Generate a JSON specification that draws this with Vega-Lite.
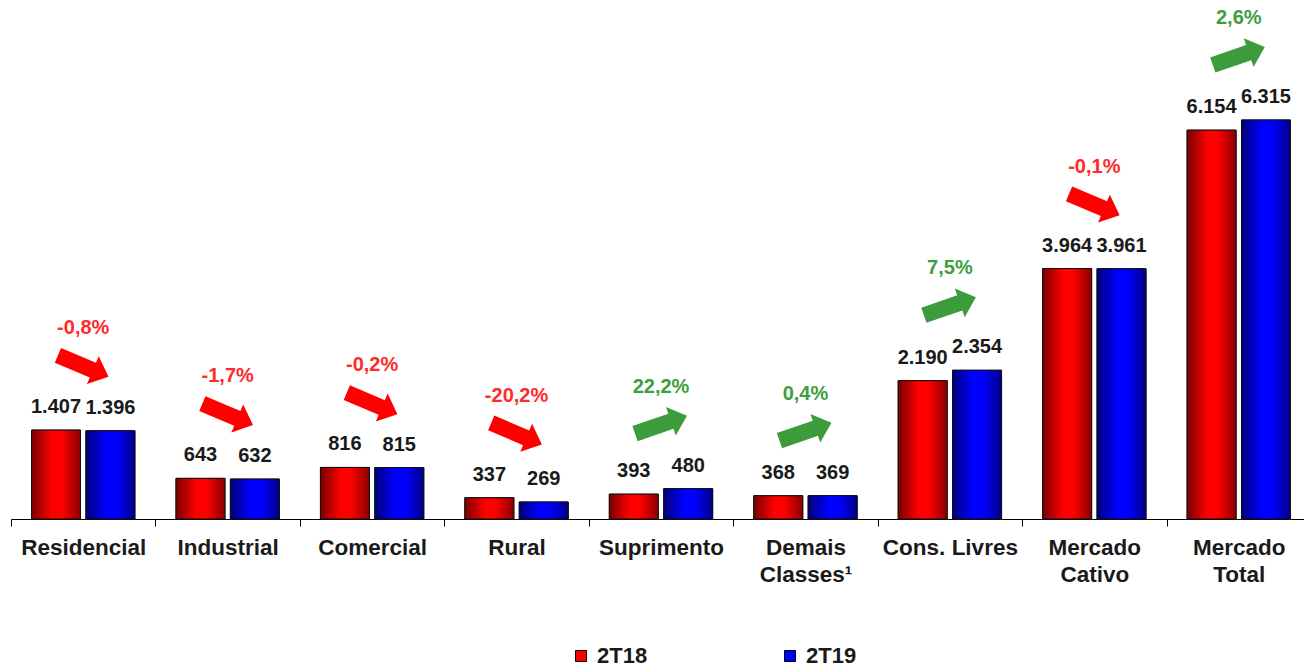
{
  "$schema": "https://vega.github.io/schema/vega-lite/v6.json",
  "width": 1300,
  "height": 519,
  "autosize": {"type": "none"},
  "padding": {"left": 11, "top": 0, "right": -7, "bottom": 151},
  "background": "white",
  "config": {
    "locale": {"number": {"decimal": ",", "thousands": ".", "grouping": [3], "currency": ["R$", ""], "minus": "-"}},
    "view": {"stroke": null},
    "font": "Liberation Sans"
  },
  "data": {
    "values": [
      {"cat": "Residencial", "serie": "2T18", "value": 1407, "chg": -0.008},
      {"cat": "Residencial", "serie": "2T19", "value": 1396, "chg": -0.008},
      {"cat": "Industrial", "serie": "2T18", "value": 643, "chg": -0.017},
      {"cat": "Industrial", "serie": "2T19", "value": 632, "chg": -0.017},
      {"cat": "Comercial", "serie": "2T18", "value": 816, "chg": -0.002},
      {"cat": "Comercial", "serie": "2T19", "value": 815, "chg": -0.002},
      {"cat": "Rural", "serie": "2T18", "value": 337, "chg": -0.202},
      {"cat": "Rural", "serie": "2T19", "value": 269, "chg": -0.202},
      {"cat": "Suprimento", "serie": "2T18", "value": 393, "chg": 0.222},
      {"cat": "Suprimento", "serie": "2T19", "value": 480, "chg": 0.222},
      {"cat": "Demais|Classes¹", "serie": "2T18", "value": 368, "chg": 0.004},
      {"cat": "Demais|Classes¹", "serie": "2T19", "value": 369, "chg": 0.004},
      {"cat": "Cons. Livres", "serie": "2T18", "value": 2190, "chg": 0.075},
      {"cat": "Cons. Livres", "serie": "2T19", "value": 2354, "chg": 0.075},
      {"cat": "Mercado|Cativo", "serie": "2T18", "value": 3964, "chg": -0.001},
      {"cat": "Mercado|Cativo", "serie": "2T19", "value": 3961, "chg": -0.001},
      {"cat": "Mercado|Total", "serie": "2T18", "value": 6154, "chg": 0.026},
      {"cat": "Mercado|Total", "serie": "2T19", "value": 6315, "chg": 0.026}
    ]
  },
  "encoding": {
    "x": {
      "field": "cat",
      "type": "nominal",
      "sort": null,
      "scale": {
        "domain": ["Residencial", "Industrial", "Comercial", "Rural", "Suprimento", "Demais|Classes¹", "Cons. Livres", "Mercado|Cativo", "Mercado|Total"],
        "paddingInner": 0,
        "paddingOuter": 0
      },
      "axis": {
        "title": null,
        "labelAngle": 0,
        "labelFont": "Liberation Sans",
        "labelFontSize": 22.5,
        "labelFontWeight": "bold",
        "labelColor": "#1a1a1a",
        "labelPadding": 10,
        "labelLineHeight": 27,
        "labelExpr": "split(datum.label, '|')",
        "labelBound": false,
        "labelOverlap": false,
        "domainColor": "#000000",
        "domainWidth": 1,
        "tickColor": "#000000",
        "tickSize": 7,
        "tickWidth": 1,
        "tickBand": "extent",
        "grid": false
      }
    },
    "y": {"field": "value", "type": "quantitative", "scale": {"domain": [0, 8214], "nice": false, "zero": true}, "axis": null}
  },
  "layer": [
    {
      "mark": {"type": "bar", "stroke": "#111111", "strokeWidth": 1},
      "encoding": {
        "xOffset": {"field": "serie", "type": "nominal", "scale": {"domain": ["2T18", "2T19"], "paddingInner": 0.1, "paddingOuter": 0.378}},
        "color": {
          "field": "serie",
          "type": "nominal",
          "scale": {"domain": ["2T18", "2T19"], "range": ["#ff0000", "#0000ff"]},
          "legend": {
            "title": null,
            "orient": "none",
            "legendX": 559,
            "legendY": 645,
            "direction": "horizontal",
            "padding": 0,
            "columnPadding": 131,
            "labelOffset": 5,
            "labelFont": "Liberation Sans",
            "labelFontSize": 22,
            "labelFontWeight": "bold",
            "labelColor": "#1a1a1a",
            "symbolType": "square",
            "symbolSize": 121,
            "symbolStrokeColor": "#000000",
            "symbolStrokeWidth": 1,
            "symbolOpacity": 1
          }
        }
      }
    },
    {
      "transform": [{"filter": "datum.serie === '2T18'"}],
      "mark": {
        "type": "bar",
        "stroke": "#111111",
        "strokeWidth": 1,
        "fill": {"gradient": "linear", "x1": 0, "y1": 0, "x2": 1, "y2": 0,
          "stops": [{"offset": 0, "color": "#7a0000"}, {"offset": 0.42, "color": "#ff0000"}, {"offset": 0.62, "color": "#ff0000"}, {"offset": 1, "color": "#8a0000"}]}
      },
      "encoding": {"xOffset": {"field": "serie", "type": "nominal"}}
    },
    {
      "transform": [{"filter": "datum.serie === '2T19'"}],
      "mark": {
        "type": "bar",
        "stroke": "#111111",
        "strokeWidth": 1,
        "fill": {"gradient": "linear", "x1": 0, "y1": 0, "x2": 1, "y2": 0,
          "stops": [{"offset": 0, "color": "#00007a"}, {"offset": 0.42, "color": "#0000ff"}, {"offset": 0.62, "color": "#0000ff"}, {"offset": 1, "color": "#00008a"}]}
      },
      "encoding": {"xOffset": {"field": "serie", "type": "nominal"}}
    },
    {
      "mark": {"type": "text", "font": "Liberation Sans", "fontSize": 20, "fontWeight": "bold", "color": "#1a1a1a", "baseline": "middle", "dy": -23},
      "encoding": {
        "xOffset": {"field": "serie", "type": "nominal"},
        "text": {"field": "value", "type": "quantitative", "format": ",d"}
      }
    },
    {
      "transform": [{"aggregate": [{"op": "max", "field": "value", "as": "top"}, {"op": "max", "field": "chg", "as": "chg"}], "groupby": ["cat"]}],
      "mark": {"type": "text", "font": "Liberation Sans", "fontSize": 20, "fontWeight": "bold", "baseline": "middle", "dy": -102},
      "encoding": {
        "y": {"field": "top", "type": "quantitative"},
        "text": {"field": "chg", "type": "quantitative", "format": ".1%"},
        "color": {"condition": {"test": "datum.chg < 0", "value": "#ff2a2a"}, "value": "#3d9e3d"}
      }
    },
    {
      "transform": [{"aggregate": [{"op": "max", "field": "value", "as": "top"}, {"op": "max", "field": "chg", "as": "chg"}], "groupby": ["cat"]}, {"filter": "datum.chg < 0"}],
      "mark": {"type": "point", "shape": "M-1,-0.29L0.38,-0.29L0.38,-0.55L1,0L0.38,0.55L0.38,0.29L-1,0.29Z", "filled": true, "size": 3025, "color": "#ff0000", "opacity": 1, "strokeWidth": 0, "angle": 23, "yOffset": -64},
      "encoding": {"y": {"field": "top", "type": "quantitative"}}
    },
    {
      "transform": [{"aggregate": [{"op": "max", "field": "value", "as": "top"}, {"op": "max", "field": "chg", "as": "chg"}], "groupby": ["cat"]}, {"filter": "datum.chg >= 0"}],
      "mark": {"type": "point", "shape": "M-1,-0.29L0.38,-0.29L0.38,-0.55L1,0L0.38,0.55L0.38,0.29L-1,0.29Z", "filled": true, "size": 3025, "color": "#3c9c3c", "opacity": 1, "strokeWidth": 0, "angle": -19, "yOffset": -64},
      "encoding": {"y": {"field": "top", "type": "quantitative"}}
    }
  ]
}
